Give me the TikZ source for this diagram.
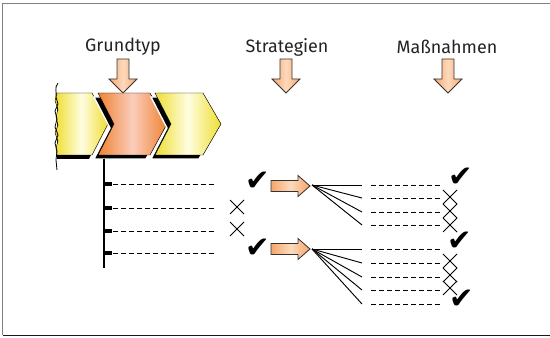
\documentclass[tikz,border=0pt]{standalone}
\usepackage{fontspec}
\setmainfont{Fira Sans}
\newfontfamily\symfont{DejaVu Sans}
\usetikzlibrary{calc}
\definecolor{chevyellow}{RGB}{238,222,50}
\definecolor{chevlight}{RGB}{255,253,225}
\definecolor{chevorange}{RGB}{240,130,50}
\definecolor{chevpink}{RGB}{250,205,188}
\definecolor{arroworange}{RGB}{246,165,105}
\definecolor{arrowlight}{RGB}{253,218,190}
\definecolor{textgray}{RGB}{35,35,35}
\tikzset{
  label/.style={text=textgray, font=\fontsize{15.3}{18}\selectfont, inner sep=0pt},
  dashline/.style={line width=0.6pt, dash pattern=on 4.2pt off 2.6pt},
  fanline/.style={line width=0.8pt},
  blockarrow/.style={draw=black!80, line width=0.7pt, left color=arroworange, right color=arroworange, middle color=arrowlight},
  checkmark/.style={font=\symfont\fontsize{25}{25}\selectfont, inner sep=0pt},
}
% down arrow, top centre at #1
\def\downblock(#1,#2){\shade[blockarrow] (#1-6,#2) -- (#1+6,#2) -- (#1+6,#2+20) -- (#1+14,#2+20) -- (#1,#2+34) -- (#1-14,#2+20) -- (#1-6,#2+20) -- cycle;}
% right arrow, left centre at #1
\def\rightblock(#1,#2){\shade[blockarrow] (#1,#2-5.5) -- (#1+27,#2-5.5) -- (#1+27,#2-10.5) -- (#1+39,#2) -- (#1+27,#2+10.5) -- (#1+27,#2+5.5) -- (#1,#2+5.5) -- cycle;}
% thin cross at #1
\def\crossmark(#1,#2){\draw[line width=0.7pt] (#1-7,#2-7) -- (#1+7,#2+7) (#1-7,#2+7) -- (#1+7,#2-7);}

\begin{document}
\begin{tikzpicture}[x=0.03cm, y=-0.03cm]
			%%%%% START %%%%%
			\useasboundingbox (0,0) rectangle (550,338);
			
			% frame
			\draw[line width=1.4pt, color=black!50] (550,3.5) -- (2.5,3.5) -- (2.5,335);
			\draw[line width=1.3pt, color=black!90] (2.5,335.5) -- (550,335.5);
			
			% headings
			\node[label] (grundtyp) at (123,47) {Grundtyp};
			\node[label] (strategien) at (287,47) {Strategien};
			\node[label] (massnahmen) at (447,47) {Maßnahmen};
			
			\downblock(123,59)
			\downblock(286,59)
			\downblock(448,59)
			
			% chevron 1
			\fill[black] (57,97) -- (89,97) -- (104,128) -- (89,159) -- (57,159) -- cycle;
			\shade[draw=black, line width=0.4pt, left color=chevyellow, right color=chevyellow, middle color=chevlight]
				(57,93) -- (92,93) -- (108,124) -- (92,155) -- (57,155) -- (56,148) -- (58,141) -- (55,133) -- (58,125) -- (56,117) -- (58,109) -- (55,101) -- cycle;
			\draw[line width=0.7pt] (58,83) .. controls (54,88) and (57,92) .. (56,97) -- (58,104) -- (55,111) -- (57,119) -- (55,127) -- (58,135) -- (55,143) -- (57,151) -- (56,160) -- (57,170);
			
			% chevron 2
			\draw[fill=black, draw=white, line width=1.2pt] (94,97) -- (146,97) -- (163,128) -- (146,159) -- (94,159) -- (110,128) -- cycle;
			\shade[draw=black, line width=0.4pt, left color=chevorange, right color=chevorange, middle color=chevpink]
				(98,93) -- (150,93) -- (167,124) -- (150,155) -- (98,155) -- (114,124) -- cycle;
			
			% chevron 3
			\draw[fill=black, draw=white, line width=1.2pt] (151,97) -- (199,97) -- (217,128) -- (199,159) -- (151,159) -- (167,128) -- cycle;
			\shade[draw=black, line width=0.4pt, left color=chevyellow, right color=chevyellow, middle color=chevlight]
				(155,93) -- (203,93) -- (221,124) -- (203,155) -- (155,155) -- (171,124) -- cycle;
			
			% stem with ticks
			\draw[line width=0.9pt] (104,159) -- (104,268);
			\foreach \y in {184,208,231,253} {
				\fill[black] (104,\y-2.2) rectangle (112,\y+2.2);
				\draw[dashline] (113,\y) -- (215,\y);
			}
			
			% marks for strategies
			\node[checkmark] (c1) at (258,181) {✔};
			\crossmark(237,207)
			\crossmark(237,229)
			\node[checkmark] (c2) at (258,248) {✔};
			
			% strategy arrows and fans
			\rightblock(271,186)
			\rightblock(271,249)
			\coordinate (f1) at (312,185);
			\coordinate (f2) at (312,249);
			\foreach \y in {185,198,212,225} {
				\draw[fanline] (f1) -- (362,\y);
				\draw[dashline] (371,\y) -- (440,\y);
			}
			\foreach \y in {249,263,277,290,304} {
				\draw[fanline] (f2) -- (362,\y);
				\draw[dashline] (371,\y) -- (440,\y);
			}
			
			% marks for measures
			\node[checkmark] (m1) at (461,177) {✔};
			\crossmark(450,197)
			\crossmark(450,211)
			\crossmark(450,225)
			\node[checkmark] (m2) at (460,241) {✔};
			\crossmark(450,261)
			\crossmark(450,275)
			\crossmark(450,288)
			\node[checkmark] (m3) at (462,299) {✔};
			
			%%%%% END %%%%%
		\end{tikzpicture}
\end{document}
